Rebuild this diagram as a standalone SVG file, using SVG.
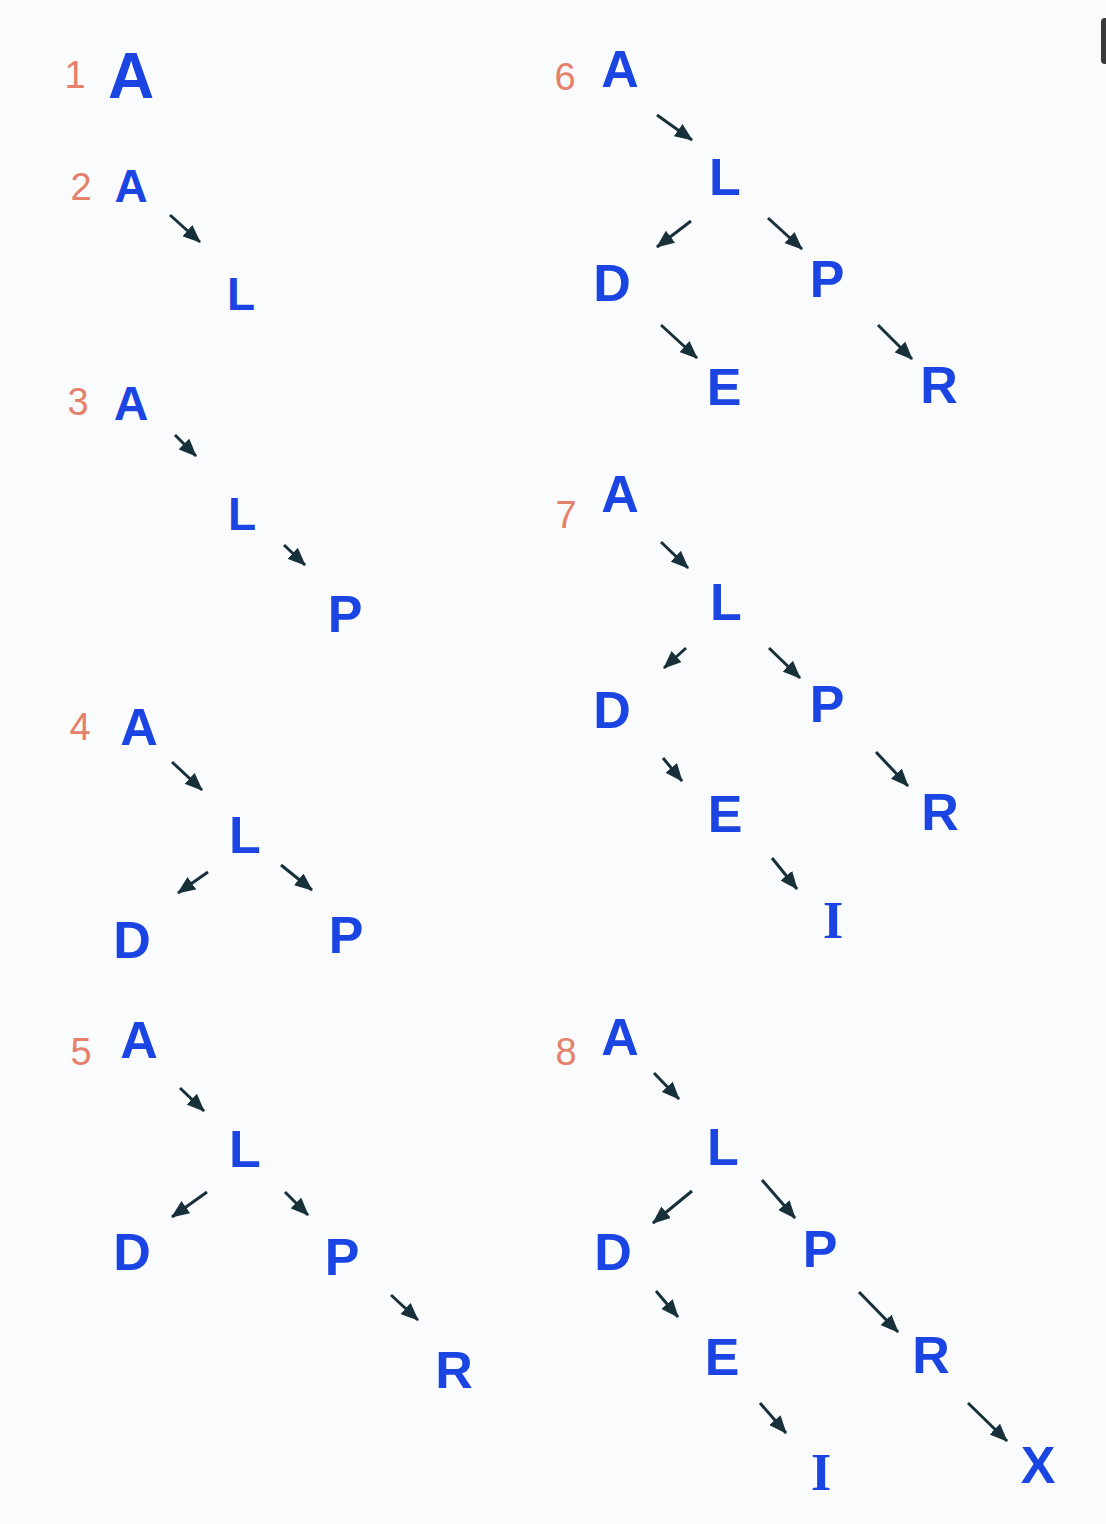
<svg xmlns="http://www.w3.org/2000/svg" width="1106" height="1524" viewBox="0 0 1106 1524">
<style>
.n{font-family:"Liberation Sans","DejaVu Sans",sans-serif;font-weight:bold;font-size:52px;fill:#1b45e3;text-anchor:middle}
.i{font-family:"Liberation Serif","DejaVu Serif",serif}
.k{font-family:"Liberation Sans","DejaVu Sans",sans-serif;font-size:38px;fill:#e5806b;text-anchor:middle}
.e{stroke:#17303a;stroke-width:3;fill:none;marker-end:url(#ah)}
</style>
<defs>
<marker id="ah" viewBox="0 0 18 15" refX="17" refY="7.5" markerWidth="18" markerHeight="15" markerUnits="userSpaceOnUse" orient="auto">
<path d="M0,0 L18,7.5 L0,15 z" fill="#17303a"/>
</marker>
</defs>
<rect width="1106" height="1524" fill="#fafbfd"/>
<rect x="1101" y="18" width="10" height="46" rx="4" fill="#3a3a3a"/>

<g id="connectors">
<line class="e" x1="170" y1="215" x2="200" y2="242"/>
<line class="e" x1="175" y1="435" x2="196" y2="456"/>
<line class="e" x1="284" y1="545" x2="305" y2="565"/>
<line class="e" x1="172" y1="762" x2="202" y2="790"/>
<line class="e" x1="208" y1="872" x2="178" y2="893"/>
<line class="e" x1="281" y1="865" x2="312" y2="890"/>
<line class="e" x1="180" y1="1088" x2="204" y2="1111"/>
<line class="e" x1="207" y1="1192" x2="172" y2="1217"/>
<line class="e" x1="285" y1="1192" x2="308" y2="1215"/>
<line class="e" x1="391" y1="1295" x2="418" y2="1320"/>
<line class="e" x1="657" y1="115" x2="692" y2="140"/>
<line class="e" x1="691" y1="221" x2="657" y2="247"/>
<line class="e" x1="768" y1="218" x2="802" y2="249"/>
<line class="e" x1="661" y1="325" x2="697" y2="358"/>
<line class="e" x1="878" y1="325" x2="912" y2="359"/>
<line class="e" x1="661" y1="542" x2="688" y2="568"/>
<line class="e" x1="686" y1="648" x2="664" y2="668"/>
<line class="e" x1="769" y1="648" x2="800" y2="678"/>
<line class="e" x1="663" y1="758" x2="682" y2="781"/>
<line class="e" x1="876" y1="752" x2="908" y2="786"/>
<line class="e" x1="772" y1="858" x2="797" y2="889"/>
<line class="e" x1="654" y1="1073" x2="679" y2="1099"/>
<line class="e" x1="692" y1="1191" x2="653" y2="1223"/>
<line class="e" x1="762" y1="1180" x2="795" y2="1218"/>
<line class="e" x1="656" y1="1291" x2="678" y2="1317"/>
<line class="e" x1="859" y1="1292" x2="898" y2="1332"/>
<line class="e" x1="760" y1="1403" x2="786" y2="1433"/>
<line class="e" x1="968" y1="1403" x2="1007" y2="1441"/>
</g>

<g id="step1">
<text class="k" x="75" y="88">1</text>
<g id="s1-A"><text class="n" x="131" y="98" style="font-size:64px">A</text></g>
</g>
<g id="step2">
<text class="k" x="81" y="200">2</text>
<g id="s2-A"><text class="n" x="131" y="202" style="font-size:46px">A</text></g>
<g id="s2-L"><text class="n" x="241" y="310" style="font-size:46px">L</text></g>
</g>
<g id="step3">
<text class="k" x="78" y="415">3</text>
<g id="s3-A"><text class="n" x="131" y="420" style="font-size:48px">A</text></g>
<g id="s3-L"><text class="n" x="242" y="530" style="font-size:46px">L</text></g>
<g id="s3-P"><text class="n" x="345" y="632">P</text></g>
</g>
<g id="step4">
<text class="k" x="80" y="740">4</text>
<g id="s4-A"><text class="n" x="139" y="745">A</text></g>
<g id="s4-L"><text class="n" x="245" y="853">L</text></g>
<g id="s4-D"><text class="n" x="132" y="958">D</text></g>
<g id="s4-P"><text class="n" x="346" y="953">P</text></g>
</g>
<g id="step5">
<text class="k" x="81" y="1065">5</text>
<g id="s5-A"><text class="n" x="139" y="1058">A</text></g>
<g id="s5-L"><text class="n" x="245" y="1167">L</text></g>
<g id="s5-D"><text class="n" x="132" y="1270">D</text></g>
<g id="s5-P"><text class="n" x="342" y="1275">P</text></g>
<g id="s5-R"><text class="n" x="454" y="1388">R</text></g>
</g>
<g id="step6">
<text class="k" x="565" y="90">6</text>
<g id="s6-A"><text class="n" x="620" y="87">A</text></g>
<g id="s6-L"><text class="n" x="725" y="195">L</text></g>
<g id="s6-D"><text class="n" x="612" y="301">D</text></g>
<g id="s6-P"><text class="n" x="827" y="297">P</text></g>
<g id="s6-E"><text class="n" x="724" y="405">E</text></g>
<g id="s6-R"><text class="n" x="939" y="403">R</text></g>
</g>
<g id="step7">
<text class="k" x="566" y="528">7</text>
<g id="s7-A"><text class="n" x="620" y="512">A</text></g>
<g id="s7-L"><text class="n" x="726" y="620">L</text></g>
<g id="s7-D"><text class="n" x="612" y="728">D</text></g>
<g id="s7-P"><text class="n" x="827" y="722">P</text></g>
<g id="s7-E"><text class="n" x="725" y="832">E</text></g>
<g id="s7-R"><text class="n" x="940" y="830">R</text></g>
<g id="s7-I"><text class="n i" x="833" y="938">I</text></g>
</g>
<g id="step8">
<text class="k" x="566" y="1065">8</text>
<g id="s8-A"><text class="n" x="620" y="1055">A</text></g>
<g id="s8-L"><text class="n" x="723" y="1165">L</text></g>
<g id="s8-D"><text class="n" x="613" y="1270">D</text></g>
<g id="s8-P"><text class="n" x="820" y="1267">P</text></g>
<g id="s8-E"><text class="n" x="722" y="1375">E</text></g>
<g id="s8-R"><text class="n" x="931" y="1373">R</text></g>
<g id="s8-I"><text class="n i" x="821" y="1490">I</text></g>
<g id="s8-X"><text class="n" x="1038" y="1483">X</text></g>
</g>
</svg>
